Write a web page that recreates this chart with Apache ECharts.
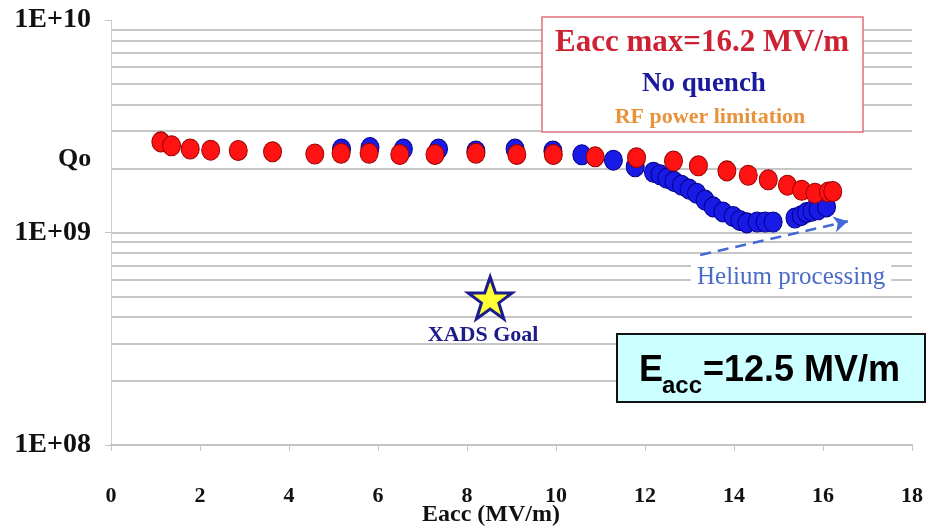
<!DOCTYPE html>
<html>
<head>
<meta charset="utf-8">
<script src="https://cdn.jsdelivr.net/npm/echarts@6/dist/echarts.min.js"></script>
<style>
  html, body { margin: 0; padding: 0; background: #fff; }
  #chart { width: 929px; height: 529px; }
</style>
</head>
<body>
<div id="chart"></div>
<script>
// --- data ---
const xTicks = [0, 2, 4, 6, 8, 10, 12, 14, 16, 18];

// red: RF power limitation run
const redE = [1.12, 1.36, 1.78, 2.24, 2.86, 3.63, 4.58, 5.17, 5.80, 6.49, 7.28, 8.20, 9.12, 9.94,
  10.88, 11.81, 12.64, 13.20, 13.84, 14.32, 14.77, 15.20, 15.52, 15.82, 16.12, 16.22];
const redQ = [2.67e9, 2.56e9, 2.47e9, 2.44e9, 2.43e9, 2.40e9, 2.34e9, 2.36e9, 2.36e9, 2.33e9, 2.33e9, 2.36e9, 2.33e9, 2.33e9,
  2.27e9, 2.25e9, 2.17e9, 2.06e9, 1.95e9, 1.86e9, 1.77e9, 1.67e9, 1.58e9, 1.53e9, 1.55e9, 1.56e9];

// blue: first run, before helium processing
const blueE = [5.18, 5.82, 6.57, 7.36, 8.20, 9.08, 9.93, 10.58, 11.29, 11.78, 12.19, 12.34, 12.49, 12.65, 12.82,
  12.99, 13.16, 13.35, 13.53, 13.75, 13.98, 14.13, 14.29, 14.52, 14.70, 14.88, 15.37, 15.51, 15.63, 15.75, 15.89, 16.08];
const blueQ = [2.47e9, 2.51e9, 2.47e9, 2.47e9, 2.42e9, 2.47e9, 2.42e9, 2.32e9, 2.19e9, 2.04e9, 1.92e9, 1.87e9, 1.80e9, 1.74e9, 1.67e9,
  1.60e9, 1.53e9, 1.42e9, 1.32e9, 1.25e9, 1.19e9, 1.14e9, 1.11e9, 1.12e9, 1.12e9, 1.12e9, 1.17e9, 1.20e9, 1.24e9, 1.26e9, 1.28e9, 1.32e9];

const goal = [8.52, 4.92e8];
const heliumArrow = [[13.24, 7.84e8], [16.56, 1.13e9]];

// log grid lines (2..9 x 10^8, 10^9, 2..9 x 10^9)
const gridQ = [2e8, 3e8, 4e8, 5e8, 6e8, 7e8, 8e8, 9e8, 1e9, 2e9, 3e9, 4e9, 5e9, 6e9, 7e9, 8e9, 9e9];

const zip = (a, b) => a.map((v, i) => [v, b[i]]);
const SERIF = '"Liberation Serif", "Times New Roman", serif';
const SANS = '"Liberation Sans", Arial, sans-serif';
const STAR = 'path://M50,2 L61.8,36.2 L97.6,36.2 L68.8,57.4 L79.6,91.6 L50,70.6 L20.4,91.6 L31.2,57.4 L2.4,36.2 L38.2,36.2 Z';

const chart = echarts.init(document.getElementById('chart'));

const option = {
  backgroundColor: '#fff',
  animation: false,
  grid: { left: 111, right: 17, top: 20, bottom: 84, containLabel: false, outerBoundsMode: 'none' },
  xAxis: {
    type: 'value',
    min: 0,
    max: 18,
    interval: 2,
    axisLine: { lineStyle: { color: '#c4c4c4', width: 2 } },
    axisTick: { show: true, length: 6, lineStyle: { color: '#c4c4c4' } },
    axisLabel: {
      margin: 40,
      fontFamily: SERIF, fontWeight: 'bold', fontSize: 22, color: '#111',
      formatter: (v) => (xTicks.includes(v) ? String(v) : '')
    },
    splitLine: { show: false }
  },
  yAxis: {
    type: 'log',
    logBase: 10,
    min: 1e8,
    max: 1e10,
    axisLine: { show: true, lineStyle: { color: '#d0d0d0', width: 1 } },
    axisTick: { show: true, length: 6, lineStyle: { color: '#c4c4c4' } },
    axisLabel: {
      margin: 20,
      fontFamily: SERIF, fontWeight: 'bold', fontSize: 28, color: '#111',
      formatter: (v) => '1E+' + String(Math.round(Math.log10(v))).padStart(2, '0')
    },
    splitLine: { show: false }
  },
  series: [
    {
      // grid lines only
      type: 'scatter',
      z: 0,
      data: [],
      silent: true,
      markLine: {
        z: 0,
        silent: true,
        symbol: 'none',
        label: { show: false },
        lineStyle: { color: '#c6c6c6', width: 2, type: 'solid', opacity: 1 },
        data: gridQ.map((q) => ({ yAxis: q }))
      }
    },
    {
      name: 'No quench',
      type: 'scatter',
      z: 3,
      symbol: 'circle',
      symbolSize: [18, 20],
      itemStyle: { color: '#1a1ae6', borderColor: '#00008a', borderWidth: 1, opacity: 1 },
      data: zip(blueE, blueQ),
      markLine: {
        z: 2,
        silent: true,
        symbol: ['none', 'arrow'],
        symbolSize: [12, 14],
        label: { show: false },
        lineStyle: { color: '#4468d4', width: 2.5, type: [11, 7], opacity: 1 },
        data: [[{ coord: heliumArrow[0] }, { coord: heliumArrow[1] }]]
      }
    },
    {
      name: 'RF power limitation',
      type: 'scatter',
      z: 4,
      symbol: 'circle',
      symbolSize: [18, 20],
      itemStyle: { color: '#ff1212', borderColor: '#9a0000', borderWidth: 1, opacity: 1 },
      data: zip(redE, redQ)
    },
    {
      name: 'XADS Goal',
      type: 'scatter',
      z: 5,
      symbol: STAR,
      symbolSize: [44, 42],
      itemStyle: { color: '#ffff33', borderColor: '#1c1c8c', borderWidth: 3, opacity: 1 },
      label: {
        show: true,
        position: 'bottom',
        distance: 4,
        offset: [-7, 0],
        formatter: 'XADS Goal',
        fontFamily: SERIF, fontWeight: 'bold', fontSize: 22, color: '#1c1c8a'
      },
      data: [goal]
    }
  ],
  graphic: [
    {
      type: 'text', left: 58, top: 146, z: 10,
      style: { text: 'Qo', font: 'bold 26px ' + SERIF, fill: '#111' }
    },
    {
      type: 'text', z: 10, x: 491, y: 515,
      style: { text: 'Eacc (MV/m)', font: 'bold 24px ' + SERIF, fill: '#111', align: 'center', verticalAlign: 'middle' }
    },
    {
      type: 'text', left: 691, top: 263, z: 10,
      style: {
        text: 'Helium processing', font: '25px ' + SERIF, fill: '#4a6cc8',
        backgroundColor: '#fff', padding: [2, 6]
      }
    },
    // legend box
    {
      type: 'rect', z: 10,
      shape: { x: 542, y: 17, width: 321, height: 115 },
      style: { fill: '#fff', stroke: '#e0707c', lineWidth: 1.5 }
    },
    {
      type: 'text', z: 11, x: 702, y: 43,
      style: { text: 'Eacc max=16.2 MV/m', font: 'bold 31px ' + SERIF, fill: '#cc2233', align: 'center', verticalAlign: 'middle' }
    },
    {
      type: 'text', z: 11, x: 704, y: 84,
      style: { text: 'No quench', font: 'bold 27px ' + SERIF, fill: '#1a1a9e', align: 'center', verticalAlign: 'middle' }
    },
    {
      type: 'text', z: 11, x: 710, y: 117,
      style: { text: 'RF power limitation', font: 'bold 22px ' + SERIF, fill: '#e8923a', align: 'center', verticalAlign: 'middle' }
    },
    // Eacc target box
    {
      type: 'rect', z: 10,
      shape: { x: 617, y: 334, width: 308, height: 68 },
      style: { fill: '#ccffff', stroke: '#111', lineWidth: 2 }
    },
    {
      type: 'text', z: 11, x: 639, y: 371,
      style: { text: 'E', font: 'bold 36px ' + SANS, fill: '#000', verticalAlign: 'middle' }
    },
    {
      type: 'text', z: 11, x: 662, y: 386,
      style: { text: 'acc', font: 'bold 24px ' + SANS, fill: '#000', verticalAlign: 'middle' }
    },
    {
      type: 'text', z: 11, x: 703, y: 371,
      style: { text: '=12.5 MV/m', font: 'bold 36px ' + SANS, fill: '#000', verticalAlign: 'middle' }
    }
  ]
};

chart.setOption(option);
</script>
</body>
</html>
